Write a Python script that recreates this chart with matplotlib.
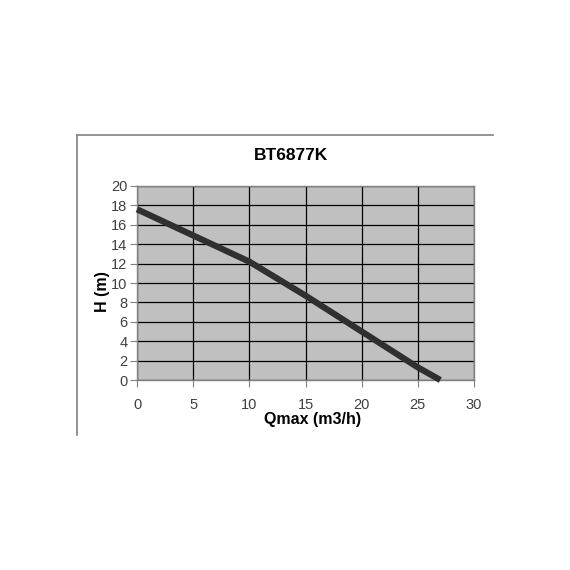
import matplotlib
matplotlib.use('Agg')
import matplotlib.pyplot as plt
from matplotlib.lines import Line2D

# pump curve
flow = [0, 5, 10, 15, 20, 25, 27]
head = [17.6, 14.9, 12.2, 8.7, 5.0, 1.3, 0.0]
x_ticks = [0, 5, 10, 15, 20, 25, 30]
y_ticks = [0, 2, 4, 6, 8, 10, 12, 14, 16, 18, 20]

plt.rcParams['font.family'] = ['Liberation Sans', 'DejaVu Sans']

fig = plt.figure(figsize=(5.7, 5.7), dpi=100)
ax = fig.add_axes([0.2404, 0.3333, 0.5912, 0.3404])
ax.set_facecolor('#c0c0c0')

ax.plot(flow, head, color='#303030', linewidth=4.5, solid_capstyle='butt',
        clip_on=False, zorder=3)

ax.set_xlim(0, 30)
ax.set_ylim(0, 20)
ax.set_xticks(x_ticks)
ax.set_yticks(y_ticks)
ax.grid(True, color='black', linewidth=0.9)
ax.set_axisbelow(True)
for s in ax.spines.values():
    s.set_color('#808080')
    s.set_linewidth(1.0)

ax.tick_params(axis='both', labelsize=10.5, colors='#808080', labelcolor='#404040',
               length=5, direction='out')
ax.tick_params(axis='x', pad=8)
ax.tick_params(axis='y', pad=2)

ax.set_xlabel('Qmax (m3/h)', fontsize=11.5, fontweight='bold')
ax.set_ylabel('H (m)', fontsize=11.5, fontweight='bold')
ax.xaxis.set_label_coords(0.52, -0.163)
ax.yaxis.set_label_coords(-0.08, 0.455)
fig.text(0.511, 0.728, 'BT6877K', fontsize=12.5, fontweight='bold', ha='center', va='center')

# outer chart frame (top and left edges only)
fig.add_artist(Line2D([77/570, 493/570], [1-135/570, 1-135/570], color='#808080', linewidth=1.2))
fig.add_artist(Line2D([77/570, 77/570], [1-135/570, 1-435/570], color='#808080', linewidth=1.2))

fig.savefig('out.png', dpi=100, facecolor='white')
